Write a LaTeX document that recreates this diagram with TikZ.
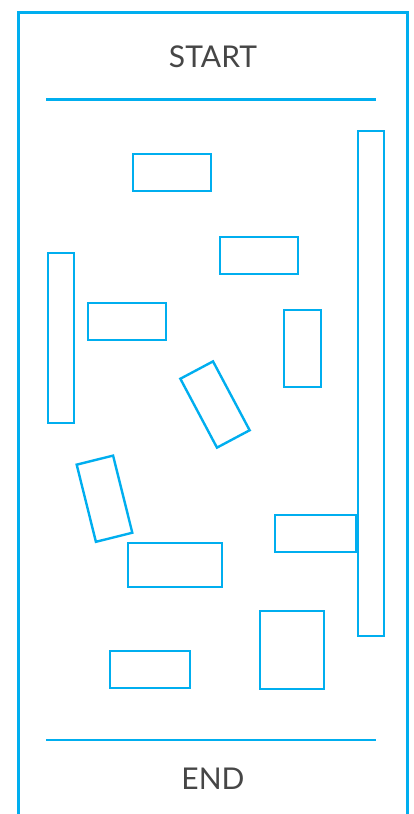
\documentclass[tikz,border=0pt]{standalone}
\usepackage{fontspec}
\setmainfont{Lato}
\definecolor{cyanline}{RGB}{0,174,239}
\definecolor{labelgray}{RGB}{70,70,70}
\begin{document}
\begin{tikzpicture}[x=1pt, y=-1pt,
  frame/.style={draw=cyanline, line width=3pt},
  sep/.style={draw=cyanline, line width=2.4pt},
  box/.style={rectangle, draw=cyanline, line width=2.4pt, inner sep=0pt},
  label/.style={font=\fontsize{30}{33}\selectfont, text=labelgray}
]
  \useasboundingbox (0,0) rectangle (414,814);

  % Frame
  \draw[frame] (18.5,840) -- (18.5,12.5) -- (407,12.5) -- (407,840);

  % Start and end
  \node[label] (start) at (213,57) {START};
  \coordinate (topL) at (46,99.5);
  \coordinate (topR) at (376,99.5);
  \draw[sep] (topL) -- (topR);

  \node[label] (end) at (213,779) {END};
  \coordinate (botL) at (46,740);
  \coordinate (botR) at (376,740);
  \draw[sep] (botL) -- (botR);

  % Boxes
  \node[box, minimum width=78pt, minimum height=37pt] (b1) at (172,172.5) {};
  \node[box, minimum width=78pt, minimum height=37pt] (b2) at (259,255.5) {};
  \node[box, minimum width=78pt, minimum height=37pt] (b3) at (127,321.5) {};
  \node[box, minimum width=26pt, minimum height=170pt] (b4) at (61,338) {};
  \node[box, minimum width=37pt, minimum height=77pt] (b5) at (302.5,348.5) {};
  \node[box, minimum width=26pt, minimum height=505pt] (b6) at (371,383.5) {};
  \node[box, minimum width=37pt, minimum height=78pt, rotate=28] (b7) at (215,404.5) {};
  \node[box, minimum width=37.5pt, minimum height=79.5pt, rotate=14] (b8) at (104.5,498.7) {};
  \node[box, minimum width=94pt, minimum height=44pt] (b9) at (175,565) {};
  \node[box, minimum width=81pt, minimum height=37pt] (b10) at (315.5,533.5) {};
  \node[box, minimum width=64pt, minimum height=78pt] (b11) at (292,650) {};
  \node[box, minimum width=80pt, minimum height=37pt] (b12) at (150,669.5) {};
\end{tikzpicture}
\end{document}
